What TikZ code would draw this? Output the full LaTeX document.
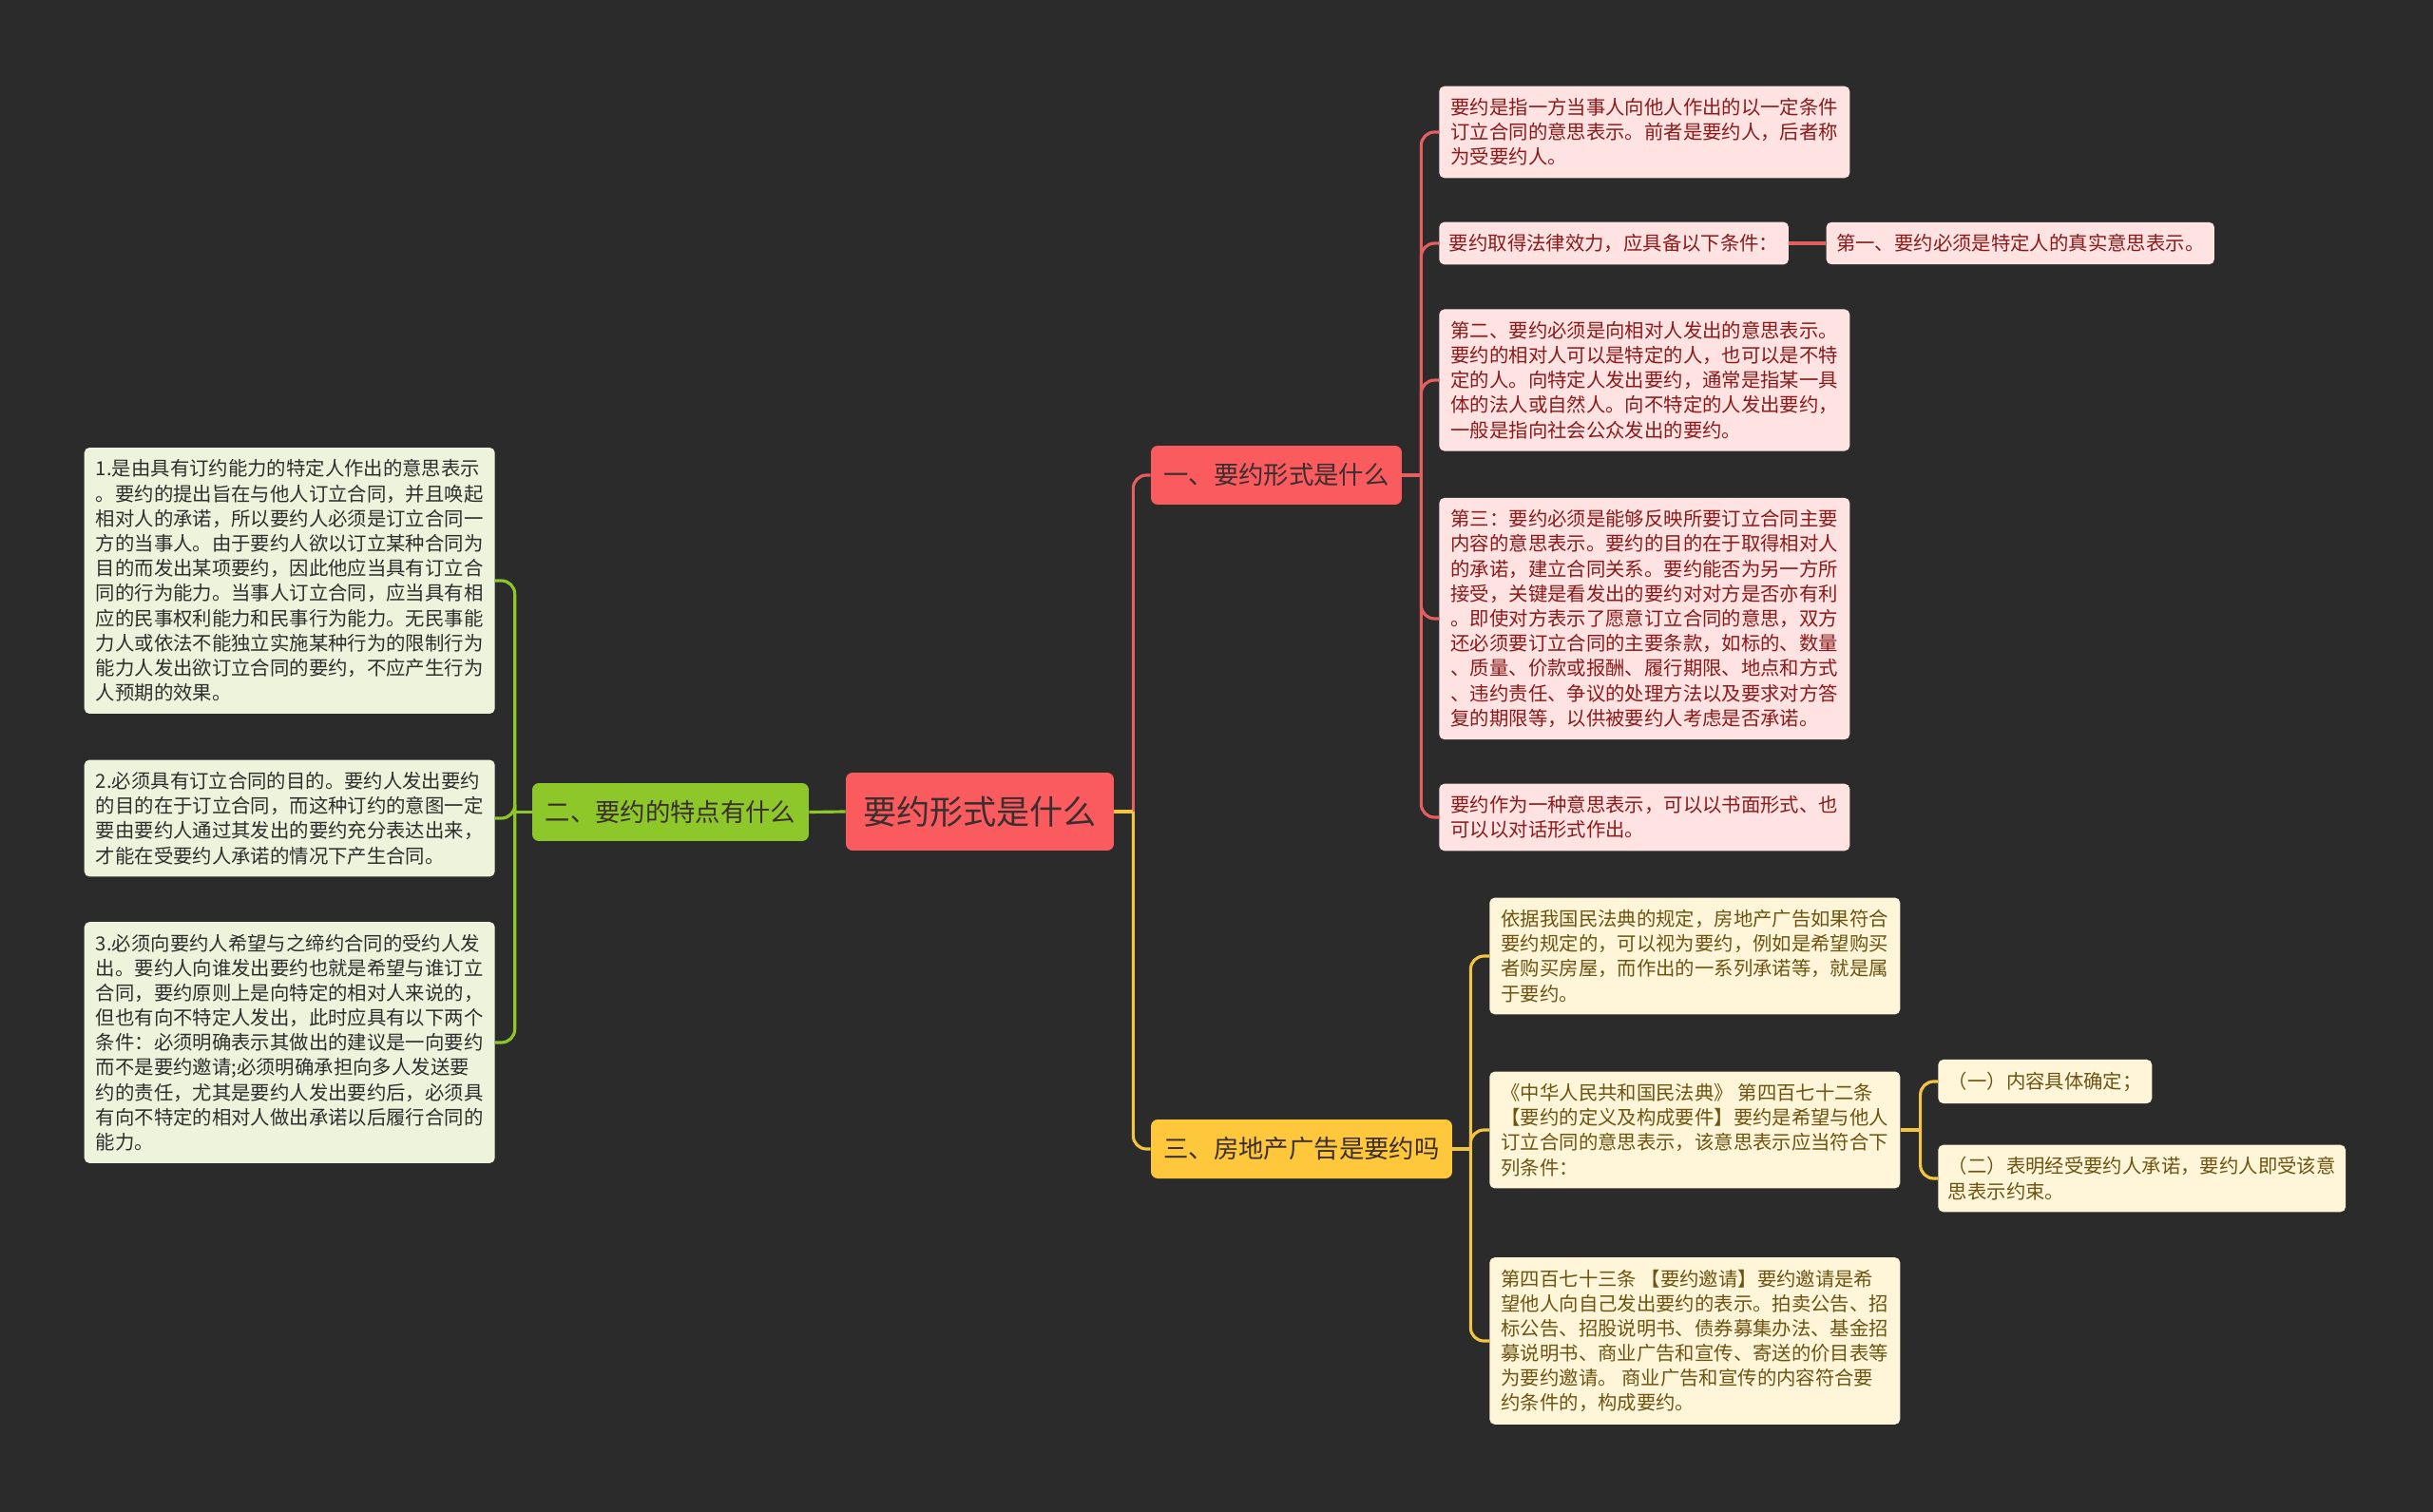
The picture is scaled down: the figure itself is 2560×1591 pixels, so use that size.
\documentclass[tikz,border=0pt]{standalone}
\usepackage{fontspec}
\setmainfont{Noto Sans CJK SC}
\usepackage{tikz}
\usetikzlibrary{positioning}
\definecolor{bgdark}{HTML}{2B2B2B}
\definecolor{redmain}{HTML}{F95B5F}
\definecolor{redline}{HTML}{E65F60}
\definecolor{redleaf}{HTML}{FFE2E2}
\definecolor{redtext}{HTML}{8A1B1B}
\definecolor{greenmain}{HTML}{8DC72A}
\definecolor{greenleaf}{HTML}{EEF4DC}
\definecolor{greentext}{HTML}{2E2E2E}
\definecolor{yellowmain}{HTML}{FFC83C}
\definecolor{yellowline}{HTML}{F5C542}
\definecolor{yellowleaf}{HTML}{FFF6DA}
\definecolor{yellowtext}{HTML}{6E5412}
\definecolor{darktext}{HTML}{3A2E2E}
\tikzset{
  central/.style = {
    rectangle, rounded corners=4pt, fill=redmain, text=darktext,
    minimum width=5.64cm, minimum height=1.64cm,
    font=\fontsize{20}{24}\selectfont
  },
  topic/.style = {
    rectangle, rounded corners=4pt, fill=#1, text=darktext,
    minimum height=1.24cm, font=\fontsize{15}{18}\selectfont
  },
  detail/.style = {
    rectangle, rounded corners=3pt, align=left,
    inner xsep=6pt, inner ysep=7.2pt,
    font=\fontsize{11.6}{14.9}\selectfont
  },
  wide/.style   = {minimum width=8.64cm},
  rdetail/.style = {detail, fill=redleaf, text=redtext},
  gdetail/.style = {detail, fill=greenleaf, text=greentext},
  ydetail/.style = {detail, fill=yellowleaf, text=yellowtext},
  link/.style  = {line width=1.8pt, draw=#1},
  elbow/.style = {link=#1, rounded corners=8pt}
}

\begin{document}
\begin{tikzpicture}[x=0.02cm, y=-0.02cm]

\fill[bgdark] (0,0) rectangle (2560,1591);
\useasboundingbox (0,0) rectangle (2560,1591);

% ----- CENTRE AND TOPICS -----
\node[central] (main) at (1031,854) {要约形式是什么};
\node[topic=redmain, minimum width=5.28cm]    (t1) at (1343,500)    {一、要约形式是什么};
\node[topic=greenmain, minimum width=5.82cm, minimum height=1.22cm] (t2) at (705.5,854.5) {二、要约的特点有什么};
\node[topic=yellowmain, minimum width=6.34cm] (t3) at (1369.5,1209) {三、房地产广告是要约吗};

% ----- RED DETAILS (right, top) -----
\node[rdetail, wide, anchor=west] (r1) at (1514,139) {要约是指一方当事人向他人作出的以一定条件\\订立合同的意思表示。前者是要约人，后者称\\为受要约人。};
\node[rdetail, anchor=west] (r2) at (1514,256) {要约取得法律效力，应具备以下条件：};
\node[rdetail, right=0.78cm of r2] (r2a) {第一、要约必须是特定人的真实意思表示。};
\node[rdetail, wide, anchor=west] (r3) at (1514,400) {第二、要约必须是向相对人发出的意思表示。\\要约的相对人可以是特定的人，也可以是不特\\定的人。向特定人发出要约，通常是指某一具\\体的法人或自然人。向不特定的人发出要约，\\一般是指向社会公众发出的要约。};
\node[rdetail, wide, anchor=west] (r4) at (1514,651) {第三：要约必须是能够反映所要订立合同主要\\内容的意思表示。要约的目的在于取得相对人\\的承诺，建立合同关系。要约能否为另一方所\\接受，关键是看发出的要约对对方是否亦有利\\。即使对方表示了愿意订立合同的意思，双方\\还必须要订立合同的主要条款，如标的、数量\\、质量、价款或报酬、履行期限、地点和方式\\、违约责任、争议的处理方法以及要求对方答\\复的期限等，以供被要约人考虑是否承诺。};
\node[rdetail, wide, anchor=west] (r5) at (1514,860) {要约作为一种意思表示，可以以书面形式、也\\可以以对话形式作出。};

% ----- GREEN DETAILS (left) -----
\node[gdetail, wide, anchor=east] (g1) at (521,611) {1.是由具有订约能力的特定人作出的意思表示\\。要约的提出旨在与他人订立合同，并且唤起\\相对人的承诺，所以要约人必须是订立合同一\\方的当事人。由于要约人欲以订立某种合同为\\目的而发出某项要约，因此他应当具有订立合\\同的行为能力。当事人订立合同，应当具有相\\应的民事权利能力和民事行为能力。无民事能\\力人或依法不能独立实施某种行为的限制行为\\能力人发出欲订立合同的要约，不应产生行为\\人预期的效果。};
\node[gdetail, wide, anchor=east] (g2) at (521,861) {2.必须具有订立合同的目的。要约人发出要约\\的目的在于订立合同，而这种订约的意图一定\\要由要约人通过其发出的要约充分表达出来，\\才能在受要约人承诺的情况下产生合同。};
\node[gdetail, wide, anchor=east] (g3) at (521,1097) {3.必须向要约人希望与之缔约合同的受约人发\\出。要约人向谁发出要约也就是希望与谁订立\\合同，要约原则上是向特定的相对人来说的，\\但也有向不特定人发出，此时应具有以下两个\\条件：必须明确表示其做出的建议是一向要约\\而不是要约邀请;必须明确承担向多人发送要\\约的责任，尤其是要约人发出要约后，必须具\\有向不特定的相对人做出承诺以后履行合同的\\能力。};

% ----- YELLOW DETAILS (right, bottom) -----
\node[ydetail, wide, anchor=west] (y1) at (1567,1006) {依据我国民法典的规定，房地产广告如果符合\\要约规定的，可以视为要约，例如是希望购买\\者购买房屋，而作出的一系列承诺等，就是属\\于要约。};
\node[ydetail, wide, anchor=west] (y2) at (1567,1189) {《中华人民共和国民法典》 第四百七十二条\\【要约的定义及构成要件】要约是希望与他人\\订立合同的意思表示，该意思表示应当符合下\\列条件：};
\node[ydetail, anchor=west] (y2a) at (2039,1138) {（一）内容具体确定；};
\node[ydetail, anchor=west] (y2b) at (2039,1240) {（二）表明经受要约人承诺，要约人即受该意\\思表示约束。};
\node[ydetail, wide, anchor=west] (y3) at (1567,1411) {第四百七十三条 【要约邀请】要约邀请是希\\望他人向自己发出要约的表示。拍卖公告、招\\标公告、招股说明书、债券募集办法、基金招\\募说明书、商业广告和宣传、寄送的价目表等\\为要约邀请。 商业广告和宣传的内容符合要\\约条件的，构成要约。};

% ----- CONNECTORS -----
% centre to topics
\draw[link=redline] (main.east) -- ++(20,0) coordinate (mr);
\draw[elbow=redline] (mr) |- (t1.west);
\draw[elbow=yellowline] (mr) |- (t3.west);
\draw[link=yellowline] (main.east) -- (mr);
\draw[link=greenmain] (main.west) -- (t2.east);

% topic one to its details
\draw[link=redline] (t1.east) -- ++(20,0) coordinate (t1r);
\foreach \n in {r1,r2,r3,r4,r5}
  \draw[elbow=redline] (t1r) |- (\n.west);
\draw[link=redline] (r2) -- (r2a);

% topic two to its details
\draw[link=greenmain] (t2.west) -- ++(-18,0) coordinate (t2l);
\foreach \n in {g1,g2,g3}
  \draw[elbow=greenmain] (t2l) |- (\n.east);

% topic three to its details
\draw[link=yellowline] (t3.east) -- ++(19,0) coordinate (t3r);
\foreach \n in {y1,y2,y3}
  \draw[elbow=yellowline] (t3r) |- (\n.west);
\draw[link=yellowline] (y2.east) -- ++(21,0) coordinate (y2r);
\foreach \n in {y2a,y2b}
  \draw[elbow=yellowline] (y2r) |- (\n.west);

\end{tikzpicture}
\end{document}
